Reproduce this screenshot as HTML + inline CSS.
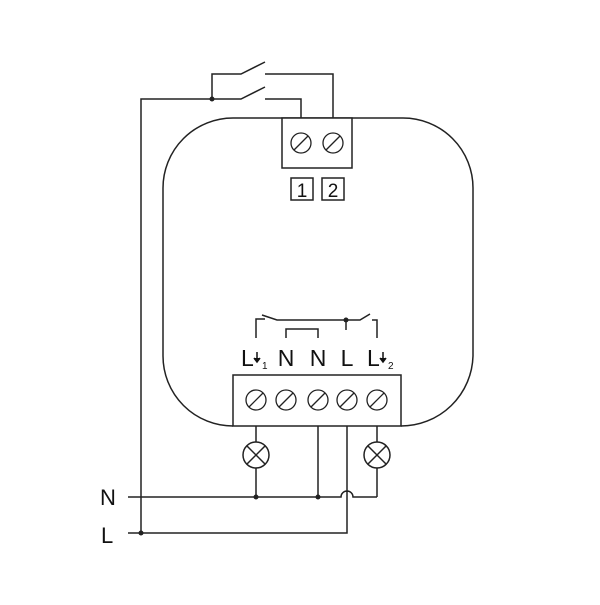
<!DOCTYPE html><html><head><style>body{margin:0;background:#fff}</style></head><body>
<svg width="600" height="600" viewBox="0 0 600 600" xmlns="http://www.w3.org/2000/svg" font-family="Liberation Sans, sans-serif">
<g fill="none" stroke="#222" stroke-width="1.5">
<path d="M473,188 A70,70 0 0 0 403,118 H233 A70,70 0 0 0 163,188 V356 A70,70 0 0 0 233,426 M401,426 A72,72 0 0 0 473,356 V188"/>
<rect x="282" y="118" width="70" height="50" fill="#fff"/>
<rect x="233" y="375" width="168" height="51" fill="#fff"/>
<path d="M141,533 V99 H241 L265,87 M265,99 H301 V118 M212,99 V74 H241 L265,62 M265,74 H333 V118"/>
<path d="M256,338 V319 H265 M262,315 L277,320 H360 L370,314 M372,320 H377 V338 M346,320 V330 M286,338 V329 H318 V338"/>
<path d="M256,426 V442 M256,468 V497 M377,426 V442 M377,468 V497 M318,426 V497 M128,497 H341 A6,6 0 0 1 353,497 H377 M347,426 V533 H128"/>
<circle cx="256" cy="455" r="13"/><circle cx="377" cy="455" r="13"/>
<path d="M247,446 L265,464 M265,446 L247,464 M368,446 L386,464 M386,446 L368,464"/>
<rect x="291" y="178" width="22" height="22"/><rect x="322" y="178" width="22" height="22"/>
<g stroke-width="1.3">
<circle cx="301" cy="143" r="10"/><path d="M294,150 L308,136"/>
<circle cx="333" cy="143" r="10"/><path d="M326,150 L340,136"/>
<circle cx="256" cy="400" r="10"/><path d="M249,407 L263,393"/>
<circle cx="286" cy="400" r="10"/><path d="M279,407 L293,393"/>
<circle cx="318" cy="400" r="10"/><path d="M311,407 L325,393"/>
<circle cx="347" cy="400" r="10"/><path d="M340,407 L354,393"/>
<circle cx="377" cy="400" r="10"/><path d="M370,407 L384,393"/>
</g></g>
<g fill="#222"><circle cx="212" cy="99" r="2.5"/><circle cx="346" cy="320" r="2.5"/><circle cx="256" cy="497" r="2.5"/><circle cx="318" cy="497" r="2.5"/><circle cx="141" cy="533" r="2.5"/></g>
<g fill="#111" stroke="#111" stroke-width="1.5">
<path d="M257,352 V361 M254,358 L257,362 L260,358"/>
<path d="M383,352 V361 M380,358 L383,362 L386,358"/>
</g>
<g fill="#111" font-size="23">
<text x="302" y="197" text-anchor="middle" font-size="19">1</text>
<text x="333" y="197" text-anchor="middle" font-size="19">2</text>
<text x="241" y="366">L</text><text x="262" y="369" font-size="10">1</text>
<text x="286" y="366" text-anchor="middle">N</text>
<text x="318" y="366" text-anchor="middle">N</text>
<text x="347" y="366" text-anchor="middle">L</text>
<text x="367" y="366">L</text><text x="388" y="369" font-size="10">2</text>
<text x="100" y="505" font-size="22">N</text>
<text x="101" y="543" font-size="22">L</text>
</g>
</svg></body></html>
